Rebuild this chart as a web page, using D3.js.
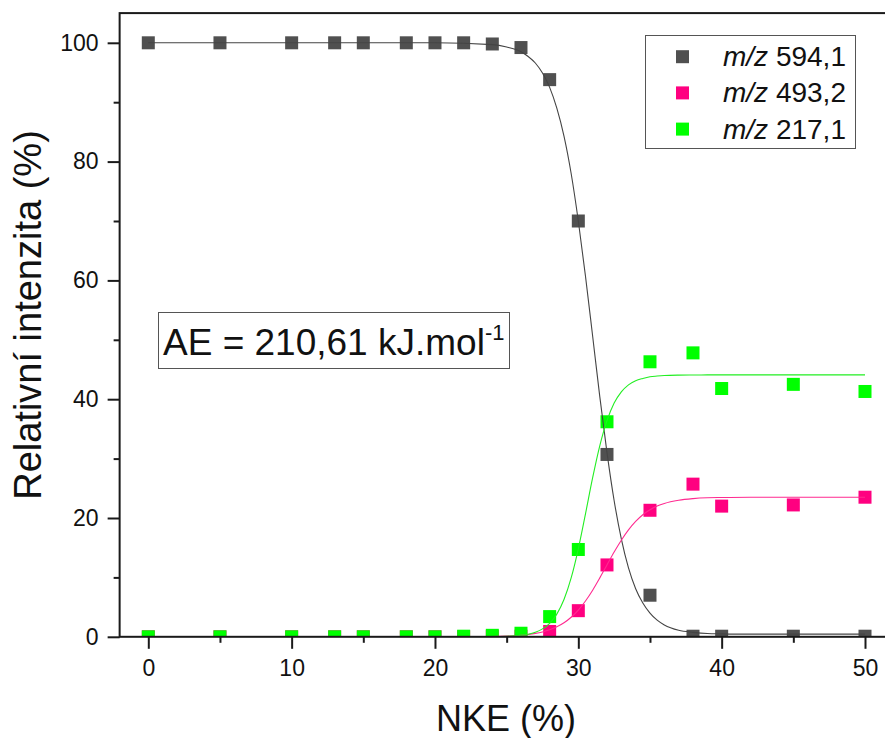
<!DOCTYPE html>
<html>
<head>
<meta charset="utf-8">
<script src="https://cdn.jsdelivr.net/npm/d3@7"></script>
<style>
  body { margin: 0; background: #fff; }
  svg { display: block; font-family: "Liberation Sans", Arial, sans-serif; }
</style>
</head>
<body>
<div class="chart"></div>
<script>
// measured points (NKE %, relative intensity %)
var nke = [0, 5, 10, 13, 15, 18, 20, 22, 24, 26, 28, 30, 32, 35, 38, 40, 45, 50];
var mz594 = [100, 100, 100, 100, 100, 100, 100, 100, 99.8, 99.2, 93.8, 70.0, 30.7, 7.0, 0.1, 0.1, 0.1, 0.1];
var mz493 = [0, 0, 0, 0, 0, 0, 0, 0, 0.05, 0.1, 0.9, 4.4, 12.1, 21.3, 25.7, 22.0, 22.2, 23.5];
var mz217 = [0, 0, 0, 0, 0, 0, 0, 0.1, 0.25, 0.6, 3.4, 14.7, 36.2, 46.3, 47.8, 41.8, 42.5, 41.3];

// fitted curves
var fitX = [0, 20, 24, 25, 26, 26.5, 27, 27.5, 28, 28.5, 29, 29.5, 30, 30.5, 31, 31.5, 32,
            32.5, 33, 33.5, 34, 34.5, 35, 35.5, 36, 37, 38, 39, 40, 42, 45, 50];
var fit594 = [100, 100, 99.7, 99.3, 98.5, 97.7, 96.6, 94.9, 92.5, 89.0, 84.3, 78.0, 70.0, 60.7, 50.6, 40.4, 31.0,
              22.9, 16.5, 11.6, 8.1, 5.7, 4.0, 2.8, 2.0, 1.1, 0.75, 0.55, 0.5, 0.45, 0.45, 0.45];
var fit493 = [0, 0, 0.06, 0.13, 0.27, 0.4, 0.57, 0.82, 1.18, 1.68, 2.36, 3.29, 4.5, 6.03, 7.85, 9.92, 12.1,
              14.27, 16.26, 18.0, 19.42, 20.54, 21.38, 22.0, 22.45, 22.99, 23.26, 23.4, 23.45, 23.5, 23.5, 23.5];
var fit217 = [0, 0, 0.03, 0.08, 0.26, 0.44, 0.77, 1.33, 2.27, 3.82, 6.27, 9.91, 14.82, 20.7, 26.78, 32.19, 36.39,
              39.34, 41.23, 42.42, 43.12, 43.5, 43.78, 43.9, 43.99, 44.06, 44.08, 44.09, 44.1, 44.1, 44.1, 44.1];

var seriesNames = ["594,1", "493,2", "217,1"];
var colors = ["#505050", "#ff0080", "#00ff00"];
var xTicks = [0, 10, 20, 30, 40, 50];
var yTicks = [0, 20, 40, 60, 80, 100];

var width = 885, height = 738;

var x = d3.scaleLinear().domain([0, 50]).range([148.3, 865]);
var y = d3.scaleLinear().domain([0, 100]).range([636.8, 42.8]);

// plot frame (right side runs past the window edge, as in the original)
var frameL = x(-2), frameR = x(52), frameT = y(105), frameB = y(0);

var svg = d3.select(".chart").append("svg")
  .attr("width", width)
  .attr("height", height);

svg.append("clipPath").attr("id", "plotclip")
  .append("rect")
  .attr("x", frameL).attr("y", frameT)
  .attr("width", frameR - frameL).attr("height", frameB - frameT);

var plot = svg.append("g").attr("clip-path", "url(#plotclip)");

var series = [mz594, mz493, mz217];
var fits = [fit594, fit493, fit217];

// markers
series.forEach(function (vals, i) {
  plot.append("g")
    .selectAll("rect")
    .data(nke)
    .enter()
    .append("rect")
    .attr("x", function (d) { return x(d) - 6.5; })
    .attr("y", function (d, j) { return y(vals[j]) - 6.5; })
    .attr("width", 13)
    .attr("height", 13)
    .style("fill", colors[i]);
});

// fit lines on top
var lineColors = ["#444", "#ff2a90", "#22ee22"];
fits.forEach(function (vals, i) {
  var line = d3.line()
    .x(function (d) { return x(d); })
    .y(function (d, j) { return y(vals[j]); })
    .curve(d3.curveMonotoneX);
  plot.append("path")
    .datum(fitX)
    .attr("d", line)
    .style("fill", "none")
    .style("stroke", lineColors[i])
    .style("stroke-width", 1.1);
});

// frame
svg.append("rect")
  .attr("x", frameL).attr("y", frameT)
  .attr("width", frameR - frameL).attr("height", frameB - frameT)
  .style("fill", "none")
  .style("stroke", "#1a1a1a")
  .style("stroke-width", 2);

// y axis
var yAxis = svg.append("g")
  .attr("transform", "translate(" + frameL + ",0)")
  .call(d3.axisLeft(y).tickValues(yTicks).tickSize(12).tickPadding(9));
var yMinor = svg.append("g")
  .attr("transform", "translate(" + frameL + ",0)")
  .call(d3.axisLeft(y).tickValues([10, 30, 50, 70, 90]).tickSize(6).tickFormat(""));

// x axis
var xAxis = svg.append("g")
  .attr("transform", "translate(0," + frameB + ")")
  .call(d3.axisBottom(x).tickValues(xTicks).tickSize(12).tickPadding(11));
var xMinor = svg.append("g")
  .attr("transform", "translate(0," + frameB + ")")
  .call(d3.axisBottom(x).tickValues([5, 15, 25, 35, 45]).tickSize(6).tickFormat(""));

[yAxis, yMinor, xAxis, xMinor].forEach(function (g) {
  g.select(".domain").remove();
  g.selectAll("line").style("stroke", "#1a1a1a").style("stroke-width", 2);
  g.selectAll("text")
    .style("font-family", "'Liberation Sans', Arial, sans-serif")
    .style("font-size", "23px")
    .style("fill", "#111");
});

// axis titles
svg.append("text")
  .attr("transform", "translate(41,315) rotate(-90)")
  .style("text-anchor", "middle")
  .style("font-size", "38px")
  .style("fill", "#111")
  .text("Relativní intenzita (%)");

svg.append("text")
  .attr("x", 506)
  .attr("y", 731)
  .style("text-anchor", "middle")
  .style("font-size", "36px")
  .style("fill", "#111")
  .text("NKE (%)");

// legend
var legend = svg.append("g");
legend.append("rect")
  .attr("x", 645.5).attr("y", 35.5)
  .attr("width", 210).attr("height", 113)
  .style("fill", "#fff")
  .style("stroke", "#555")
  .style("stroke-width", 1);

seriesNames.forEach(function (name, i) {
  var cy = 56.7 + i * 36.2;
  legend.append("rect")
    .attr("x", 676).attr("y", cy - 6.5)
    .attr("width", 13).attr("height", 13)
    .style("fill", colors[i]);
  var t = legend.append("text")
    .attr("x", 723)
    .attr("y", cy + 9.5)
    .style("font-size", "28px")
    .style("fill", "#111");
  t.append("tspan").style("font-style", "italic").text("m/z");
  t.append("tspan").text(" " + name);
});

// activation energy box
var ae = svg.append("g");
ae.append("rect")
  .attr("x", 158.5).attr("y", 312.5)
  .attr("width", 351).attr("height", 56)
  .style("fill", "#fff")
  .style("stroke", "#555")
  .style("stroke-width", 1);
var aeText = ae.append("text")
  .attr("x", 163)
  .attr("y", 355)
  .style("font-size", "37px")
  .style("fill", "#111");
aeText.append("tspan").text("AE = 210,61 kJ.mol");
aeText.append("tspan")
  .attr("dy", -15)
  .style("font-size", "22px")
  .text("-1");
</script>
</body>
</html>
